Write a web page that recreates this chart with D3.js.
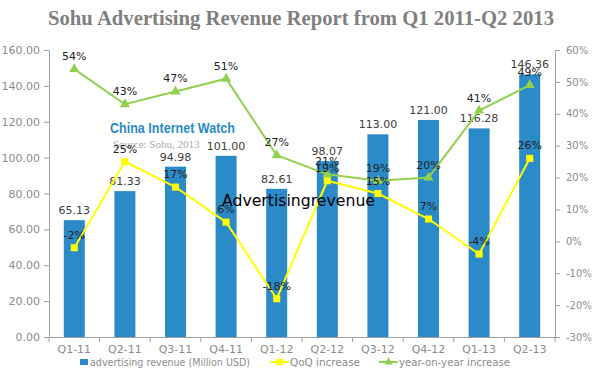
<!DOCTYPE html>
<html>
<head>
<meta charset="utf-8">
<script src="https://cdn.jsdelivr.net/npm/d3@7"></script>
<style>
  body { margin: 0; background: #fff; }
  svg text { font-family: "DejaVu Sans", sans-serif; }
</style>
</head>
<body>
<svg id="chart"></svg>
<script>
const quarters = ["Q1-11", "Q2-11", "Q3-11", "Q4-11", "Q1-12", "Q2-12", "Q3-12", "Q4-12", "Q1-13", "Q2-13"];
const revenue = [65.13, 81.33, 94.98, 101.00, 82.61, 98.07, 113.00, 121.00, 116.28, 146.36];
const qoq = [-2, 25, 17, 6, -18, 19, 15, 7, -4, 26];
const yoy = [54, 43, 47, 51, 27, 21, 19, 20, 41, 49];
const leftTicks = [0, 20, 40, 60, 80, 100, 120, 140, 160];
const rightTicks = [-30, -20, -10, 0, 10, 20, 30, 40, 50, 60];

const width = 600, height = 377;
const margin = { top: 50, right: 45, bottom: 40, left: 49 };

const svg = d3.select("#chart").attr("width", width).attr("height", height);

const x = d3.scaleBand().domain(quarters).range([margin.left, width - margin.right]);
const yL = d3.scaleLinear().domain([0, 160]).range([height - margin.bottom, margin.top]);
const yR = d3.scaleLinear().domain([-30, 60]).range([height - margin.bottom, margin.top]);

// title
svg.append("text")
  .attr("x", 48).attr("y", 25)
  .attr("textLength", 506)
  .attr("lengthAdjust", "spacingAndGlyphs")
  .style("font-family", "'Liberation Serif', serif")
  .style("font-weight", "bold")
  .style("font-size", "21px")
  .attr("fill", "#808080")
  .text("Sohu Advertising Revenue Report from Q1 2011-Q2 2013");

// bars
const barW = 21;
svg.append("g").selectAll("rect")
  .data(revenue)
  .join("rect")
  .attr("x", (d, i) => x(quarters[i]) + x.bandwidth() / 2 - barW / 2)
  .attr("y", d => yL(d))
  .attr("width", barW)
  .attr("height", d => yL(0) - yL(d))
  .attr("fill", "#2a8bc8");

// axes
const axisColor = "#a0a0a0";
const leftAxis = svg.append("g")
  .attr("transform", `translate(${margin.left},0)`)
  .call(d3.axisLeft(yL).tickValues(leftTicks).tickFormat(d3.format(".2f")).tickSize(5).tickPadding(4));
const rightAxis = svg.append("g")
  .attr("transform", `translate(${width - margin.right},0)`)
  .call(d3.axisRight(yR).tickValues(rightTicks).tickFormat(d => d + "%").tickSize(5).tickPadding(6));
const xAxis = svg.append("g")
  .attr("transform", `translate(0,${yL(0)})`)
  .call(d3.axisBottom(x).tickSize(0).tickPadding(8));

// tick marks between categories
xAxis.selectAll(".sep")
  .data(d3.range(quarters.length + 1))
  .join("line")
  .attr("x1", i => margin.left + i * x.step())
  .attr("x2", i => margin.left + i * x.step())
  .attr("y1", 0).attr("y2", 5)
  .attr("stroke", axisColor);

[leftAxis, rightAxis, xAxis].forEach(g => {
  g.select(".domain").attr("stroke", axisColor);
  g.selectAll(".tick line").attr("stroke", axisColor);
  g.selectAll("text").attr("fill", "#8c8c8c").style("font-size", "11px");
});
rightAxis.selectAll("text").style("font-size", "10px");

// watermark
svg.append("text")
  .attr("x", 110).attr("y", 133)
  .attr("textLength", 125)
  .attr("lengthAdjust", "spacingAndGlyphs")
  .style("font-family", "'Liberation Sans', sans-serif")
  .style("font-weight", "bold")
  .style("font-size", "15px")
  .attr("fill", "#2a8bc8")
  .text("China Internet Watch");
svg.append("text")
  .attr("x", 113).attr("y", 148)
  .style("font-family", "'Liberation Serif', serif")
  .style("font-size", "11px")
  .attr("fill", "#a8a8a8")
  .text("Source: Sohu, 2013");

// bar value labels
svg.append("g").selectAll("text")
  .data(revenue)
  .join("text")
  .attr("x", (d, i) => x(quarters[i]) + x.bandwidth() / 2)
  .attr("y", d => yL(d) - 6)
  .attr("text-anchor", "middle")
  .attr("fill", "#404040")
  .style("font-size", "11px")
  .text(d => d3.format(".2f")(d));

// lines
function drawSeries(values, color, marker) {
  const line = d3.line()
    .x((d, i) => x(quarters[i]) + x.bandwidth() / 2)
    .y(d => yR(d));
  svg.append("path")
    .datum(values)
    .attr("d", line)
    .attr("fill", "none")
    .attr("stroke", color)
    .attr("stroke-width", 2);
  svg.append("g").selectAll("path")
    .data(values)
    .join("path")
    .attr("transform", (d, i) => `translate(${x(quarters[i]) + x.bandwidth() / 2},${yR(d)})`)
    .attr("d", d3.symbol().type(marker).size(marker === d3.symbolSquare ? 50 : 45))
    .attr("fill", color);
  svg.append("g").selectAll("text")
    .data(values)
    .join("text")
    .attr("x", (d, i) => x(quarters[i]) + x.bandwidth() / 2)
    .attr("y", d => yR(d) - 9)
    .attr("text-anchor", "middle")
    .attr("fill", "#222")
    .style("font-size", "11px")
    .text(d => d + "%");
}
drawSeries(yoy, "#92d050", d3.symbolTriangle);
drawSeries(qoq, "#ffff00", d3.symbolSquare);

// overlay text
svg.append("text")
  .attr("x", 222).attr("y", 206)
  .attr("textLength", 153)
  .attr("lengthAdjust", "spacingAndGlyphs")
  .style("font-size", "16px")
  .attr("fill", "#000")
  .text("Advertisingrevenue");

// legend
const legend = svg.append("g").attr("transform", "translate(0,362)");
legend.append("rect").attr("x", 80).attr("y", -3).attr("width", 8).attr("height", 6).attr("fill", "#2a8bc8");
legend.append("text").attr("x", 90).attr("y", 4).attr("textLength", 160).text("advertising revenue (Million USD)");
legend.append("line").attr("x1", 270).attr("x2", 289).attr("stroke", "#ffff00").attr("stroke-width", 2);
legend.append("rect").attr("x", 276).attr("y", -3).attr("width", 7).attr("height", 6).attr("fill", "#ffff00");
legend.append("text").attr("x", 290).attr("y", 4).attr("textLength", 70).text("QoQ increase");
legend.append("line").attr("x1", 379).attr("x2", 398).attr("stroke", "#92d050").attr("stroke-width", 2);
legend.append("path").attr("transform", "translate(388.5,0)").attr("d", d3.symbol().type(d3.symbolTriangle).size(30)).attr("fill", "#92d050");
legend.append("text").attr("x", 399).attr("y", 4).attr("textLength", 111).text("year-on-year increase");
legend.selectAll("text").attr("fill", "#8c8c8c").style("font-size", "11px").attr("lengthAdjust", "spacingAndGlyphs");
</script>
</body>
</html>
